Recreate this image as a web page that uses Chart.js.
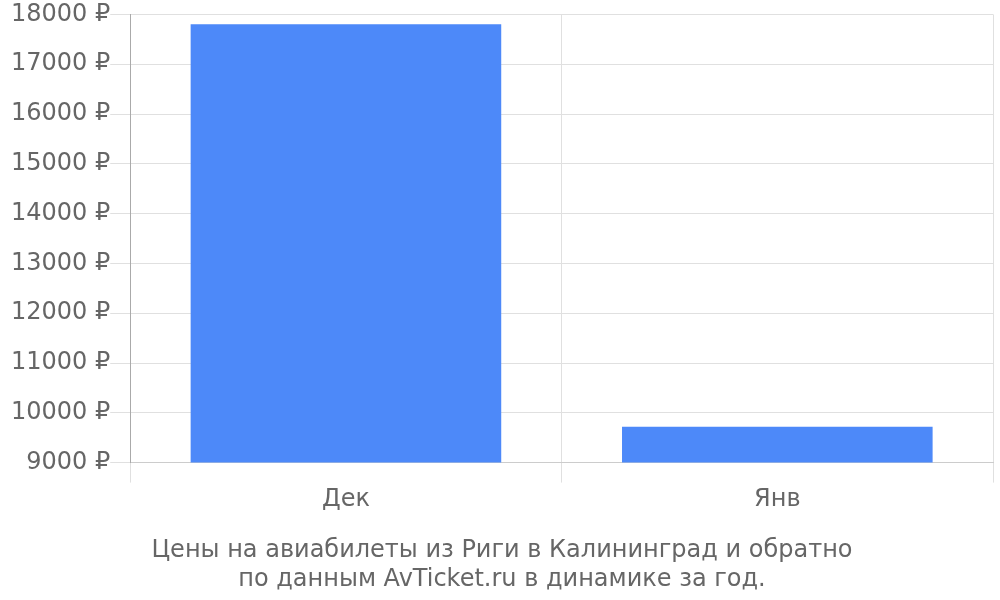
<!DOCTYPE html>
<html>
<head>
<meta charset="utf-8">
<script src="https://cdn.jsdelivr.net/npm/chart.js@4"></script>
<style>
  html, body { margin: 0; padding: 0; background: #fff; }
  #wrap { width: 1000px; height: 600px; }
</style>
</head>
<body>
<div id="wrap"><canvas id="priceChart"></canvas></div>
<script>
const months = ['Дек', 'Янв'];
const prices = [17800, 9720];
const titleLines = [
  'Цены на авиабилеты из Риги в Калининград и обратно',
  'по данным AvTicket.ru в динамике за год.'
];

Chart.defaults.font.family = '"DejaVu Sans", sans-serif';
Chart.defaults.color = '#666';

new Chart(document.getElementById('priceChart'), {
  type: 'bar',
  data: {
    labels: months,
    datasets: [{
      label: 'Цена',
      data: prices,
      backgroundColor: '#4d89f9',
      borderWidth: 0
    }]
  },
  options: {
    responsive: true,
    maintainAspectRatio: false,
    animation: false,
    layout: { padding: { left: 11, right: 7, top: 2, bottom: 6 } },
    plugins: {
      legend: { display: false },
      tooltip: { enabled: false },
      title: {
        display: true,
        position: 'bottom',
        text: titleLines,
        color: '#666',
        font: { size: 24, weight: 'normal' },
        padding: { top: 19, bottom: 0 },
        lineHeight: 1.2
      }
    },
    scales: {
      x: {
        grid: { color: '#e0e0e0', tickLength: 20, offset: true },
        border: { color: '#ccc' },
        ticks: { font: { size: 24 }, padding: 3 }
      },
      y: {
        min: 9000,
        max: 18000,
        grid: { color: '#e0e0e0', tickLength: 20 },
        border: { color: '#aaa' },
        ticks: {
          stepSize: 1000,
          font: { size: 24 },
          padding: 0,
          callback: v => v + ' ₽'
        }
      }
    }
  }
});
</script>
</body>
</html>
